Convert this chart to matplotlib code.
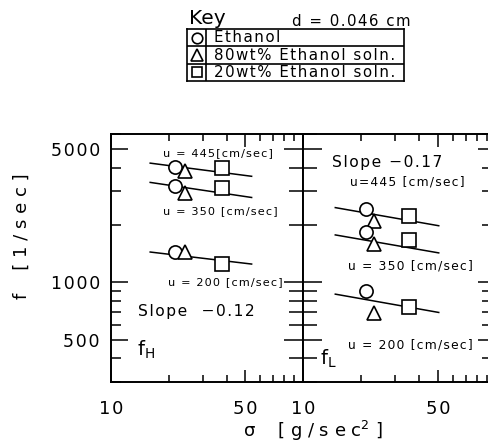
import matplotlib
matplotlib.use("Agg")
import matplotlib.pyplot as plt
from matplotlib.ticker import FixedLocator, NullFormatter, FixedFormatter

plt.rcParams['font.family'] = ['DejaVu Sans']

# ---------------- data ----------------
velocities = ["445", "350", "200"]
liquids = ["Ethanol", "80wt% Ethanol soln.", "20wt% Ethanol soln."]
markers = ["o", "^", "s"]

# fH panel (left)
sigma_H = [21.5, 24.3, 37.9]
fH_445 = [4014, 3827, 3965]
fH_350 = [3215, 2950, 3111]
fH_200 = [1450, 1440, 1247]
lineH_sigma = [16, 54]
lineH_445 = [4220, 3600]
lineH_350 = [3344, 2787]
lineH_200 = [1442, 1247]

# fL panel (right)
sigma_L = [21.3, 23.4, 35.6]
fL_445 = [2437, 2104, 2235]
fL_350 = [1842, 1591, 1670]
fL_200 = [900, 690, 742]
lineL_sigma = [14.7, 50.5]
lineL_445 = [2466, 1981]
lineL_350 = [1773, 1427]
lineL_200 = [867, 695]

ytick_major = [500, 1000, 5000]
ytick_labels = ["500", "1000", "5000"]
ytick_minor = [300, 400, 600, 700, 800, 900, 2000, 3000, 4000, 6000]
xtick_major = [10, 50]
xtick_labels = ["10", "50"]
xtick_minor = [20, 30, 40, 60, 70, 80, 90]


def spaced(s, n=1):
    """letter-spaced text (typewriter look) using hair spaces"""
    return ("\u200a" * n).join(s)


# ---------------- figure ----------------
W, H = 488, 444
fig = plt.figure(figsize=(W / 100, H / 100), dpi=100)

def px_axes(x0, x1, ytop, ybot):
    return fig.add_axes([x0 / W, 1 - ybot / H, (x1 - x0) / W, (ybot - ytop) / H])

ax1 = px_axes(111, 303, 134, 382)
ax2 = px_axes(303, 489, 134, 382)

for ax, xmax in ((ax1, 100), (ax2, 92)):
    ax.set_xscale("log")
    ax.set_yscale("log")
    ax.set_xlim(10, xmax)
    ax.set_ylim(300, 6000)
    for s in ax.spines.values():
        s.set_linewidth(1.4)
    ax.xaxis.set_major_locator(FixedLocator(xtick_major))
    ax.xaxis.set_major_formatter(FixedFormatter([spaced(t) for t in xtick_labels]))
    ax.xaxis.set_minor_locator(FixedLocator(xtick_minor))
    ax.xaxis.set_minor_formatter(NullFormatter())
    ax.yaxis.set_major_locator(FixedLocator(ytick_major))
    ax.yaxis.set_minor_locator(FixedLocator(ytick_minor))
    ax.yaxis.set_minor_formatter(NullFormatter())
    ax.tick_params(axis="x", which="both", direction="in", top=True, bottom=True,
                   width=1.1, labelsize=13, pad=13)
    ax.tick_params(axis="x", which="major", length=9)
    ax.tick_params(axis="x", which="minor", length=5)

# left panel y ticks
ax1.yaxis.set_major_formatter(FixedFormatter([spaced(t) for t in ytick_labels]))
ax1.tick_params(axis="y", which="both", direction="in", left=True, right=False,
                width=1.1, labelsize=12.5, pad=8)
ax1.tick_params(axis="y", which="major", length=12)
ax1.tick_params(axis="y", which="minor", length=7)
for t in ax1.yaxis.get_major_ticks():
    if t.get_loc() == 1000:
        t.tick1line.set_markersize(20)

# right panel y ticks (middle spine crossing, right spine inward)
ax2.yaxis.set_major_formatter(NullFormatter())
ax2.tick_params(axis="y", which="both", direction="inout", left=True, right=False,
                width=1.1, labelleft=False)
ax2.tick_params(axis="y", which="major", length=28)
ax2.tick_params(axis="y", which="minor", length=20)
for t in ax2.yaxis.get_major_ticks():
    if t.get_loc() == 1000:
        t.tick1line.set_markersize(44)
ax2r = ax2.twinx()
ax2r.set_yscale("log")
ax2r.set_ylim(300, 6000)
ax2r.yaxis.set_major_locator(FixedLocator(ytick_major))
ax2r.yaxis.set_minor_locator(FixedLocator(ytick_minor))
ax2r.yaxis.set_major_formatter(NullFormatter())
ax2r.yaxis.set_minor_formatter(NullFormatter())
ax2r.tick_params(axis="y", which="both", direction="in", width=1.1)
ax2r.tick_params(axis="y", which="major", length=8)
ax2r.tick_params(axis="y", which="minor", length=5)
for t in ax2r.yaxis.get_major_ticks():
    if t.get_loc() == 1000:
        t.tick2line.set_markersize(15)
for s in ax2r.spines.values():
    s.set_visible(False)

# ---------------- data marks ----------------
mk = dict(mfc="white", mec="black", mew=1.2, ls="none", zorder=3)
msz = {"o": 9.5, "^": 10.5, "s": 9.5}

def draw(ax, sig, series, lsig, lines):
    for fvals in series:
        for x, y, m in zip(sig, fvals, markers):
            ax.plot([x], [y], marker=m, ms=msz[m], **mk)
    for lv in lines:
        ax.plot(lsig, lv, color="black", lw=1.1, zorder=2)

draw(ax1, sigma_H, [fH_445, fH_350, fH_200], lineH_sigma, [lineH_445, lineH_350, lineH_200])
draw(ax2, sigma_L, [fL_445, fL_350, fL_200], lineL_sigma, [lineL_445, lineL_350, lineL_200])

# ---------------- annotations ----------------
tkL = dict(fontsize=8.1, ha="left", va="center")
tkR = dict(fontsize=8.8, ha="left", va="center")
ax1.text(18.7, 4766, spaced("u = 445[cm/sec]"), **tkL)
ax1.text(18.7, 2360, spaced("u = 350 [cm/sec]"), **tkL)
ax1.text(19.8, 1000, spaced("u = 200 [cm/sec]"), **tkL)
ax1.text(13.8, 703, spaced("Slope  \u22120.12"), fontsize=11.2, ha="left", va="center")
ax1.text(13.6, 440, "f$_\\mathrm{H}$", fontsize=14, ha="left", va="center")

ax2.text(14.2, 4270, spaced("Slope \u22120.17"), fontsize=11.2, ha="left", va="center")
ax2.text(17.6, 3353, spaced("u=445 [cm/sec]"), **tkR)
ax2.text(17.2, 1214, spaced("u = 350 [cm/sec]"), **tkR)
ax2.text(17.2, 471, spaced("u = 200 [cm/sec]"), **tkR)
ax2.text(12.2, 395, "f$_\\mathrm{L}$", fontsize=14, ha="left", va="center")

# axis labels
fig.text(22 / W, 1 - 236 / H, "f    [ 1 / s e c ]", rotation=90, fontsize=13,
         ha="center", va="center")
fig.text(313 / W, 1 - 431 / H, "\u03c3    [ g / s e c$^2$ ]", fontsize=13,
         ha="center", va="center")

# ---------------- key ----------------
fig.text(189 / W, 1 - 18 / H, "Key", fontsize=14.5, ha="left", va="center")
fig.text(292 / W, 1 - 22 / H, spaced("d = 0.046 cm"), fontsize=10.8, ha="left", va="center")
kax = px_axes(187, 404, 29, 81)
kax.set_xlim(0, 1)
kax.set_ylim(0, 3)
kax.set_xticks([])
kax.set_yticks([])
for s in kax.spines.values():
    s.set_linewidth(1.2)
div = 19 / 217
kax.axvline(div, color="black", lw=1.2)
for yy in (1, 2):
    kax.axhline(yy, color="black", lw=1.2)
for i, (lab, m) in enumerate(zip(liquids, markers)):
    yc = 2.5 - i
    kax.plot([div / 2], [yc], marker=m, ms=msz[m] * 0.8, **mk)
    kax.text(div + 0.035, yc, spaced(lab), fontsize=10.8, ha="left", va="center")

fig.savefig("out.png", dpi=100)
